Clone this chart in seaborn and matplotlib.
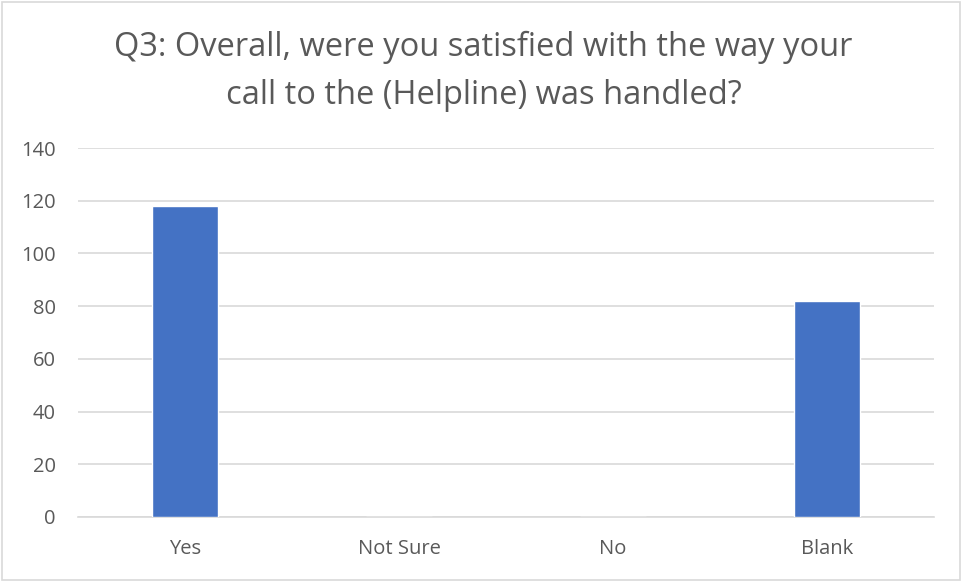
"""
plot.py

Q3 helpline satisfaction bar chart
"""

# import libs & settings
import numpy as np
import pandas as pd
import matplotlib.pyplot as plt
import seaborn as sns
import warnings

warnings.filterwarnings("ignore")
sns.set_style("white")
plt.rcParams['font.family'] = ['Open Sans', 'DejaVu Sans']

# data
answers = ["Yes", "Not Sure", "No", "Blank"]
counts = [118, 0, 0, 82]
y_ticks = [0, 20, 40, 60, 80, 100, 120, 140]

df = pd.DataFrame({"answer": answers, "count": counts})

fig = plt.figure(figsize=(9.63, 5.82), dpi=100)
ax = fig.add_axes([0.081, 0.1117, 0.889, 0.634])

sns.barplot(data=df, x="answer", y="count", color="#4472C4", saturation=1,
            width=0.31, ax=ax, zorder=3)

ax.set_ylim(0, 140)
ax.set_yticks(y_ticks)
ax.set_xlim(-0.5, 3.5)
ax.grid(axis="y", color="#D9D9D9", linewidth=1.2, zorder=0)
ax.set_xlabel("")
ax.set_ylabel("")
for s in ["top", "right", "left"]:
    ax.spines[s].set_visible(False)
ax.spines["bottom"].set_color("#D9D9D9")
ax.spines["bottom"].set_linewidth(1.2)
ax.tick_params(axis="both", length=0, labelsize=14.5, labelcolor="#595959")
ax.tick_params(axis="x", pad=16)
ax.tick_params(axis="y", pad=16)

fig.text(0.502, 0.877, "Q3: Overall, were you satisfied with the way your\ncall to the (Helpline) was handled?",
         ha="center", va="center", fontsize=23.5, color="#595959", linespacing=1.6)

# outer border
fig.patches.append(plt.Rectangle((0.002, 0.003), 0.995, 0.994, transform=fig.transFigure,
                                 fill=False, edgecolor="#D9D9D9", linewidth=1.2))

fig.savefig("out.png", dpi=100)
